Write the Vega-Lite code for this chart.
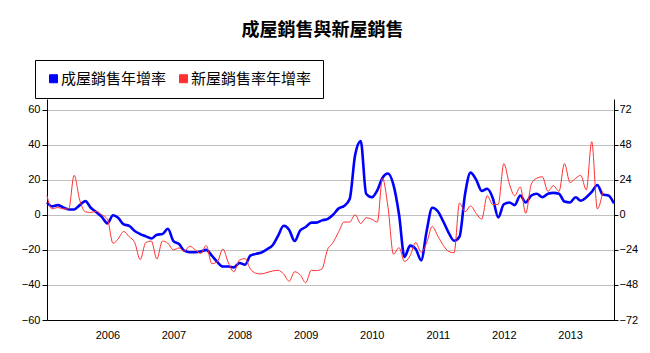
{
  "$schema": "https://vega.github.io/schema/vega-lite/v6.json",
  "width": 567,
  "height": 221,
  "autosize": {"type": "none"},
  "padding": {"left": 47, "top": 99, "right": 36, "bottom": 33},
  "background": "white",
  "title": {"text": "成屋銷售與新屋銷售", "font": "Noto Sans CJK TC", "fontSize": 18, "fontWeight": "bold", "color": "black", "anchor": "middle", "offset": 20, "dx": -8},
  "config": {"view": {"stroke": null}},
  "data": {"values": [
    {"d":"2005-02-01","a":7.0,"b":13},
    {"d":"2005-03-01","a":4.8,"b":4},
    {"d":"2005-04-01","a":5.5,"b":5},
    {"d":"2005-05-01","a":4.2,"b":4},
    {"d":"2005-06-01","a":3.0,"b":4},
    {"d":"2005-07-01","a":3.0,"b":27},
    {"d":"2005-08-01","a":5.5,"b":10},
    {"d":"2005-09-01","a":7.8,"b":2},
    {"d":"2005-10-01","a":4.0,"b":1.6},
    {"d":"2005-11-01","a":1.5,"b":2.3},
    {"d":"2005-12-01","a":-1.2,"b":0},
    {"d":"2006-01-01","a":-4.9,"b":-3},
    {"d":"2006-02-01","a":-0.3,"b":-19.5},
    {"d":"2006-03-01","a":-1.7,"b":-16.6},
    {"d":"2006-04-01","a":-5.5,"b":-11.4},
    {"d":"2006-05-01","a":-6.3,"b":-15},
    {"d":"2006-06-01","a":-9.3,"b":-19},
    {"d":"2006-07-01","a":-11,"b":-30.7},
    {"d":"2006-08-01","a":-12.3,"b":-19},
    {"d":"2006-09-01","a":-13.5,"b":-18},
    {"d":"2006-10-01","a":-11.4,"b":-30.3},
    {"d":"2006-11-01","a":-11,"b":-18},
    {"d":"2006-12-01","a":-8,"b":-19.5},
    {"d":"2007-01-01","a":-15,"b":-24},
    {"d":"2007-02-01","a":-16.7,"b":-22.7},
    {"d":"2007-03-01","a":-20.5,"b":-25},
    {"d":"2007-04-01","a":-21.4,"b":-21.5},
    {"d":"2007-05-01","a":-21.4,"b":-24},
    {"d":"2007-06-01","a":-21,"b":-26.5},
    {"d":"2007-07-01","a":-20,"b":-21},
    {"d":"2007-08-01","a":-23.3,"b":-33.5},
    {"d":"2007-09-01","a":-27,"b":-32},
    {"d":"2007-10-01","a":-29.5,"b":-23.5},
    {"d":"2007-11-01","a":-29.5,"b":-33},
    {"d":"2007-12-01","a":-30,"b":-39},
    {"d":"2008-01-01","a":-27.5,"b":-31},
    {"d":"2008-02-01","a":-28.5,"b":-30},
    {"d":"2008-03-01","a":-23.3,"b":-37},
    {"d":"2008-04-01","a":-22.3,"b":-40},
    {"d":"2008-05-01","a":-21.5,"b":-40.5},
    {"d":"2008-06-01","a":-19.7,"b":-39.5},
    {"d":"2008-07-01","a":-17.5,"b":-38.5},
    {"d":"2008-08-01","a":-12,"b":-38},
    {"d":"2008-09-01","a":-6.3,"b":-40.5},
    {"d":"2008-10-01","a":-8.5,"b":-45.5},
    {"d":"2008-11-01","a":-15,"b":-39},
    {"d":"2008-12-01","a":-9,"b":-41},
    {"d":"2009-01-01","a":-7,"b":-46.5},
    {"d":"2009-02-01","a":-4.5,"b":-38},
    {"d":"2009-03-01","a":-4.5,"b":-38.2},
    {"d":"2009-04-01","a":-3.2,"b":-37},
    {"d":"2009-05-01","a":-2.5,"b":-24},
    {"d":"2009-06-01","a":0,"b":-19},
    {"d":"2009-07-01","a":3.5,"b":-12},
    {"d":"2009-08-01","a":5,"b":-5},
    {"d":"2009-09-01","a":9,"b":-5},
    {"d":"2009-10-01","a":34,"b":0},
    {"d":"2009-11-01","a":42,"b":-6},
    {"d":"2009-12-01","a":12,"b":-2},
    {"d":"2010-01-01","a":10,"b":-3},
    {"d":"2010-02-01","a":14,"b":-5},
    {"d":"2010-03-01","a":21,"b":25},
    {"d":"2010-04-01","a":23.5,"b":5},
    {"d":"2010-05-01","a":17,"b":-27},
    {"d":"2010-06-01","a":0,"b":-22.5},
    {"d":"2010-07-01","a":-24,"b":-32},
    {"d":"2010-08-01","a":-17.6,"b":-28},
    {"d":"2010-09-01","a":-19.5,"b":-19},
    {"d":"2010-10-01","a":-26,"b":-25.7},
    {"d":"2010-11-01","a":-9,"b":-19},
    {"d":"2010-12-01","a":4,"b":-8},
    {"d":"2011-01-01","a":2,"b":-14.5},
    {"d":"2011-02-01","a":-4,"b":-21},
    {"d":"2011-03-01","a":-10,"b":-25},
    {"d":"2011-04-01","a":-14.8,"b":-26},
    {"d":"2011-05-01","a":-12.5,"b":8},
    {"d":"2011-06-01","a":12,"b":2},
    {"d":"2011-07-01","a":24,"b":6},
    {"d":"2011-08-01","a":20,"b":1},
    {"d":"2011-09-01","a":13.6,"b":-3},
    {"d":"2011-10-01","a":14.8,"b":13},
    {"d":"2011-11-01","a":9.5,"b":7},
    {"d":"2011-12-01","a":-1.5,"b":7},
    {"d":"2012-01-01","a":6,"b":35},
    {"d":"2012-02-01","a":7,"b":21},
    {"d":"2012-03-01","a":5.5,"b":13},
    {"d":"2012-04-01","a":11,"b":19},
    {"d":"2012-05-01","a":7,"b":1},
    {"d":"2012-06-01","a":11,"b":21},
    {"d":"2012-07-01","a":12,"b":25},
    {"d":"2012-08-01","a":10,"b":26},
    {"d":"2012-09-01","a":12,"b":16},
    {"d":"2012-10-01","a":12.5,"b":20},
    {"d":"2012-11-01","a":12,"b":16},
    {"d":"2012-12-01","a":7.5,"b":35},
    {"d":"2013-01-01","a":7,"b":22},
    {"d":"2013-02-01","a":10,"b":25},
    {"d":"2013-03-01","a":8,"b":27},
    {"d":"2013-04-01","a":10,"b":17},
    {"d":"2013-05-01","a":13,"b":50},
    {"d":"2013-06-01","a":17,"b":4},
    {"d":"2013-07-01","a":11.5,"b":16},
    {"d":"2013-08-01","a":11,"b":null},
    {"d":"2013-09-01","a":6.5,"b":null}
  ]},
  "encoding": {
    "x": {
      "field": "d", "type": "temporal",
      "scale": {"type": "utc", "domain": [{"year": 2005, "month": 2, "date": 1, "utc": true}, {"year": 2013, "month": 9, "date": 1, "utc": true}]},
      "axis": {
        "title": null, "format": "%Y", "grid": false, "ticks": false,
        "values": [{"year":2006,"month":1,"date":1,"utc":true},{"year":2007,"month":1,"date":1,"utc":true},{"year":2008,"month":1,"date":1,"utc":true},{"year":2009,"month":1,"date":1,"utc":true},{"year":2010,"month":1,"date":1,"utc":true},{"year":2011,"month":1,"date":1,"utc":true},{"year":2012,"month":1,"date":1,"utc":true},{"year":2013,"month":1,"date":1,"utc":true}],
        "domainColor": "black", "labelColor": "black", "labelFont": "Liberation Sans", "labelFontSize": 11, "labelPadding": 9
      }
    }
  },
  "layer": [
    {
      "mark": {"type": "line", "interpolate": "monotone", "strokeWidth": 2.6},
      "encoding": {
        "y": {
          "field": "a", "type": "quantitative",
          "scale": {"domain": [-60, 66], "nice": false, "zero": false},
          "axis": {"title": null, "orient": "left", "values": [-60,-40,-20,0,20,40,60], "grid": true, "gridColor": "#c0c0c0", "domainColor": "black", "tickColor": "black", "tickSize": 5, "labelPadding": 2, "labelColor": "black", "labelFont": "Liberation Sans", "labelFontSize": 11}
        },
        "color": {
          "datum": "成屋銷售年增率",
          "scale": {"domain": ["成屋銷售年增率", "新屋銷售率年增率"], "range": ["#0000ff", "#ff3030"]},
          "legend": {
            "title": null, "orient": "none", "legendX": -12, "legendY": -39, "direction": "horizontal",
            "strokeColor": "black", "fillColor": "white", "padding": 11,
            "symbolType": "square", "symbolSize": 64, "symbolOffset": 0,
            "labelFont": "Noto Sans CJK TC", "labelFontSize": 15, "labelColor": "black", "labelOffset": 0, "columnPadding": 9,
            "encode": {"symbols": {"update": {"fill": {"scale": "color", "field": "value"}, "stroke": {"value": "black"}, "strokeWidth": {"value": 1}, "opacity": {"value": 1}}}}
          }
        }
      }
    },
    {
      "mark": {"type": "line", "interpolate": "monotone", "strokeWidth": 1},
      "encoding": {
        "y": {
          "field": "b", "type": "quantitative",
          "scale": {"domain": [-72, 79.2], "nice": false, "zero": false},
          "axis": {"title": null, "orient": "right", "values": [-72,-48,-24,0,24,48,72], "grid": false, "domainColor": "black", "tickColor": "black", "tickSize": 4, "labelPadding": 1, "labelColor": "black", "labelFont": "Liberation Sans", "labelFontSize": 11}
        },
        "color": {"datum": "新屋銷售率年增率"}
      }
    }
  ],
  "resolve": {"scale": {"y": "independent"}, "axis": {"y": "independent"}}
}
